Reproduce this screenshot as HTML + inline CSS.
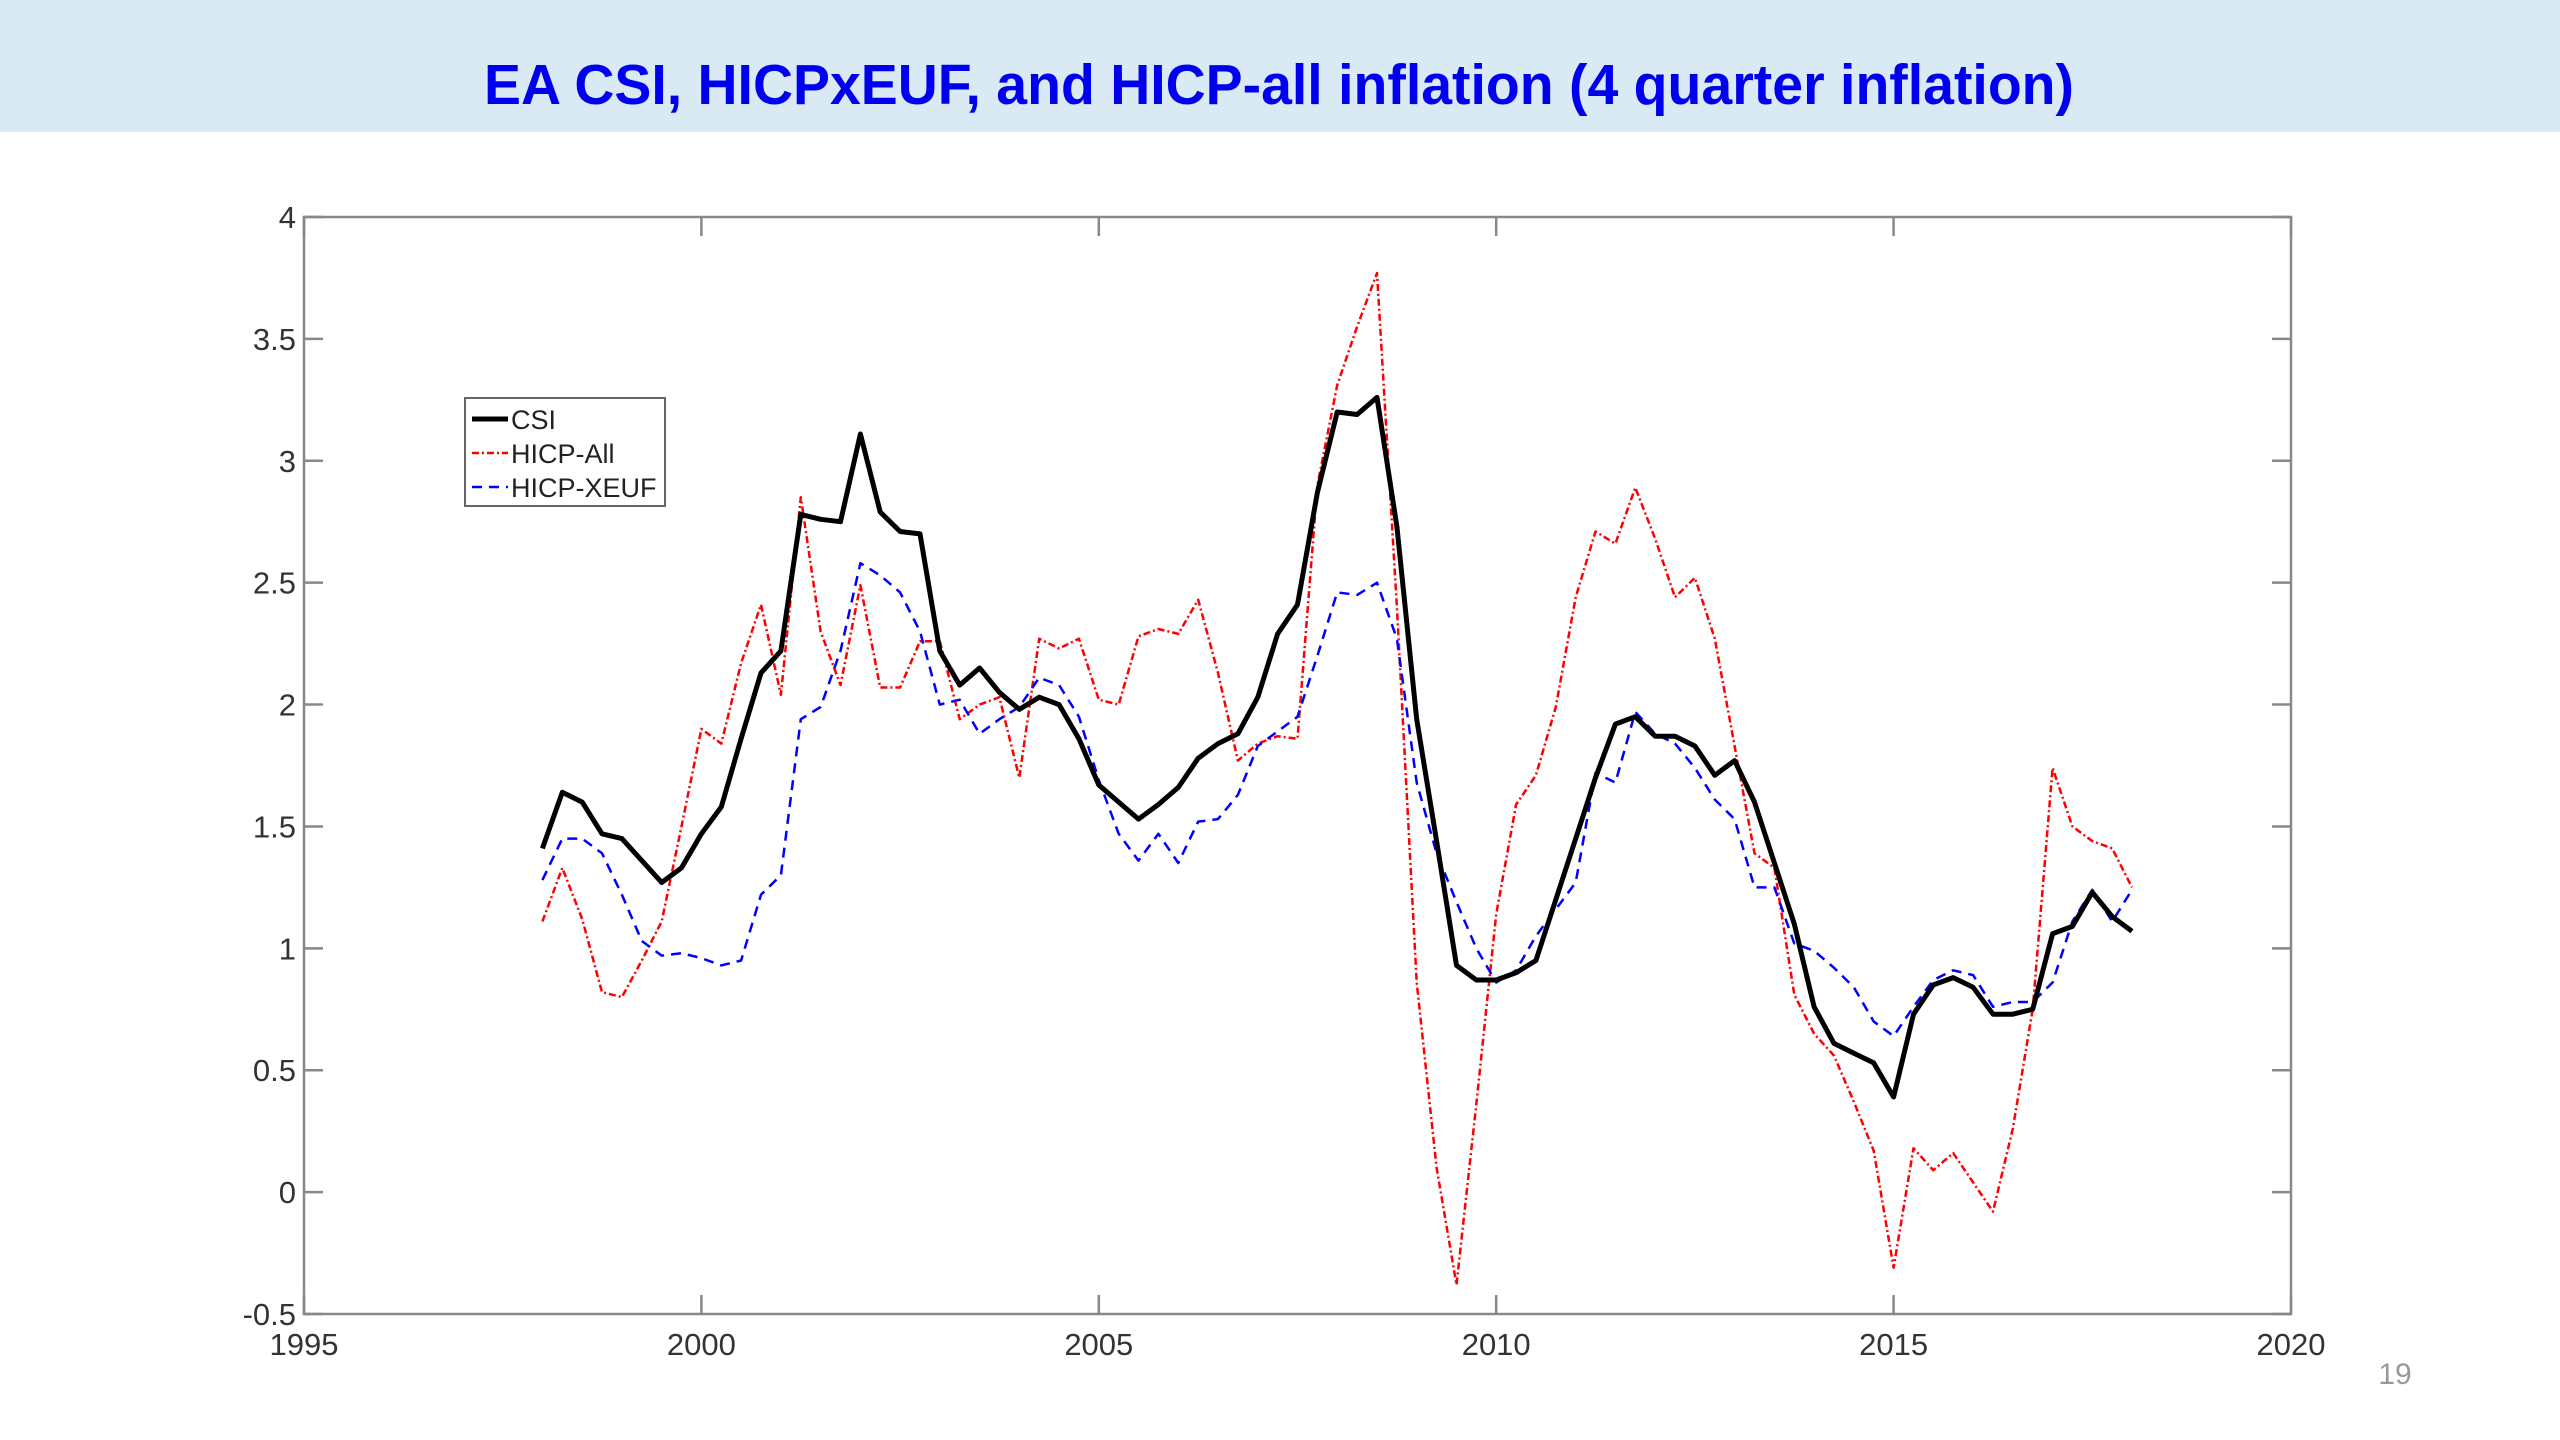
<!DOCTYPE html>
<html><head><meta charset="utf-8"><style>
html,body{margin:0;padding:0;background:#fff;}
svg{display:block;font-family:"Liberation Sans",Arial,sans-serif;}
</style></head><body>
<svg id="chart" width="2560" height="1440" viewBox="0 0 2560 1440">
<rect x="0" y="0" width="2560" height="132" fill="#daeaf4"/>
<text x="1279" y="104" text-anchor="middle" font-size="57" font-weight="bold" fill="#0000ee" textLength="1590" lengthAdjust="spacingAndGlyphs">EA CSI,  HICPxEUF, and HICP-all inflation (4 quarter inflation)</text>
<text x="2395" y="1384" text-anchor="middle" font-size="30" fill="#999">19</text>
<g id="axes"></g>
<g id="series"></g>
<g>
<rect x="465" y="398" width="200" height="108" fill="#fff" stroke="#666" stroke-width="2"/>
<line x1="472" y1="419" x2="508" y2="419" stroke="#000" stroke-width="5"/>
<text x="511" y="429" font-size="27" fill="#222">CSI</text>
<line x1="472" y1="453" x2="508" y2="453" stroke="#f00" stroke-width="2.5" stroke-dasharray="7,3,2,3"/>
<text x="511" y="463" font-size="27" fill="#222">HICP-All</text>
<line x1="472" y1="487" x2="508" y2="487" stroke="#00f" stroke-width="2.5" stroke-dasharray="10,7"/>
<text x="511" y="497" font-size="27" fill="#222">HICP-XEUF</text>
</g>
</svg>
<script>
const startYear = 1998.0;
const quarterStep = 0.25;
const xTicks = [1995, 2000, 2005, 2010, 2015, 2020];
const yTicks = [-0.5, 0, 0.5, 1, 1.5, 2, 2.5, 3, 3.5, 4];
const yTickLabels = ["-0.5","0","0.5","1","1.5","2","2.5","3","3.5","4"];
const csi = [1.41,1.64,1.60,1.47,1.45,1.36,1.27,1.33,1.47,1.58,1.86,2.13,2.22,2.78,2.76,2.75,3.11,2.79,2.71,2.70,
2.22,2.08,2.15,2.05,1.98,2.03,2.00,1.86,1.67,1.60,1.53,1.59,1.66,1.78,1.84,1.88,2.03,2.29,2.41,2.87,
3.20,3.19,3.26,2.73,1.94,1.44,0.93,0.87,0.87,0.90,0.95,1.20,1.45,1.70,1.92,1.95,1.87,1.87,1.83,1.71,
1.77,1.60,1.35,1.10,0.76,0.61,0.57,0.53,0.39,0.73,0.85,0.88,0.84,0.73,0.73,0.75,1.06,1.09,1.23,1.13,1.07];
const hicpAll = [1.11,1.33,1.12,0.82,0.80,0.95,1.11,1.50,1.90,1.84,2.17,2.41,2.04,2.85,2.30,2.08,2.49,2.07,2.07,2.26,
2.26,1.94,2.00,2.03,1.70,2.27,2.23,2.27,2.02,2.00,2.28,2.31,2.29,2.43,2.13,1.77,1.84,1.87,1.86,2.90,
3.31,3.55,3.77,2.40,0.86,0.10,-0.38,0.36,1.14,1.59,1.71,1.99,2.44,2.71,2.66,2.89,2.68,2.44,2.52,2.27,
1.83,1.39,1.33,0.81,0.65,0.56,0.37,0.17,-0.31,0.18,0.09,0.16,0.04,-0.08,0.26,0.75,1.74,1.50,1.44,1.41,1.25];
const hicpXeuf = [1.28,1.45,1.45,1.39,1.22,1.03,0.97,0.98,0.96,0.93,0.95,1.22,1.30,1.94,1.99,2.22,2.58,2.53,2.46,2.30,
2.00,2.02,1.88,1.94,1.99,2.11,2.08,1.95,1.69,1.47,1.36,1.47,1.35,1.52,1.53,1.63,1.83,1.89,1.95,2.20,
2.46,2.45,2.50,2.27,1.68,1.39,1.19,1.00,0.86,0.91,1.05,1.16,1.27,1.72,1.68,1.97,1.88,1.84,1.74,1.61,
1.53,1.25,1.25,1.02,0.99,0.92,0.84,0.70,0.64,0.76,0.87,0.91,0.89,0.76,0.78,0.78,0.86,1.11,1.24,1.11,1.24];

const NS = "http://www.w3.org/2000/svg";
const X0 = 304, X1 = 2291, Y0 = 1314, Y1 = 217;
function xScale(v){ return X0 + (v - 1995) / (2020 - 1995) * (X1 - X0); }
function yScale(v){ return Y0 - (v + 0.5) / (4 + 0.5) * (Y0 - Y1); }
function mk(tag, attrs){ const e = document.createElementNS(NS, tag); for (const k in attrs) e.setAttribute(k, attrs[k]); return e; }

const axes = document.getElementById('axes');
const frame = mk('rect', {x:X0, y:Y1, width:X1-X0, height:Y0-Y1, fill:'none', stroke:'#888', 'stroke-width':2.5});


axes.appendChild(frame);
xTicks.forEach(function(t){
  const x = xScale(t);
  const tb = mk('line', {x1:x, y1:Y0, x2:x, y2:Y0-19, stroke:'#888', 'stroke-width':2.5});
  
  
  axes.appendChild(tb);
  const tt = mk('line', {x1:x, y1:Y1, x2:x, y2:Y1+19, stroke:'#888', 'stroke-width':2.5});
  
  
  axes.appendChild(tt);
  const lb = mk('text', {x:x, y:1355, 'text-anchor':'middle', 'font-size':31, fill:'#333'});
  lb.textContent = String(t);
  
  
  axes.appendChild(lb);
});
yTicks.forEach(function(t, i){
  const y = yScale(t);
  const tl = mk('line', {x1:X0, y1:y, x2:X0+19, y2:y, stroke:'#888', 'stroke-width':2.5});
  
  
  axes.appendChild(tl);
  const tr = mk('line', {x1:X1, y1:y, x2:X1-19, y2:y, stroke:'#888', 'stroke-width':2.5});
  
  
  axes.appendChild(tr);
  const lb = mk('text', {x:X0-8, y:y+11, 'text-anchor':'end', 'font-size':31, fill:'#333'});
  lb.textContent = yTickLabels[i];
  
  
  axes.appendChild(lb);
});

const series = document.getElementById('series');
function drawLine(vals, attrs, name){
  const pts = vals.map(function(v, i){ return xScale(startYear + i*quarterStep).toFixed(1) + ',' + yScale(v).toFixed(1); }).join(' ');
  const attrsAll = Object.assign({points:pts, fill:'none', 'stroke-linejoin':'round'}, attrs);
  const p = mk('polyline', attrsAll);
  
  
  series.appendChild(p);
}
drawLine(hicpAll, {stroke:'#f00', 'stroke-width':2.5, 'stroke-dasharray':'7,3,2,3'}, 'hicp-all-line');
drawLine(hicpXeuf, {stroke:'#00f', 'stroke-width':2.5, 'stroke-dasharray':'10,7'}, 'hicp-xeuf-line');
drawLine(csi, {stroke:'#000', 'stroke-width':5}, 'csi-line');
</script>
</body></html>
